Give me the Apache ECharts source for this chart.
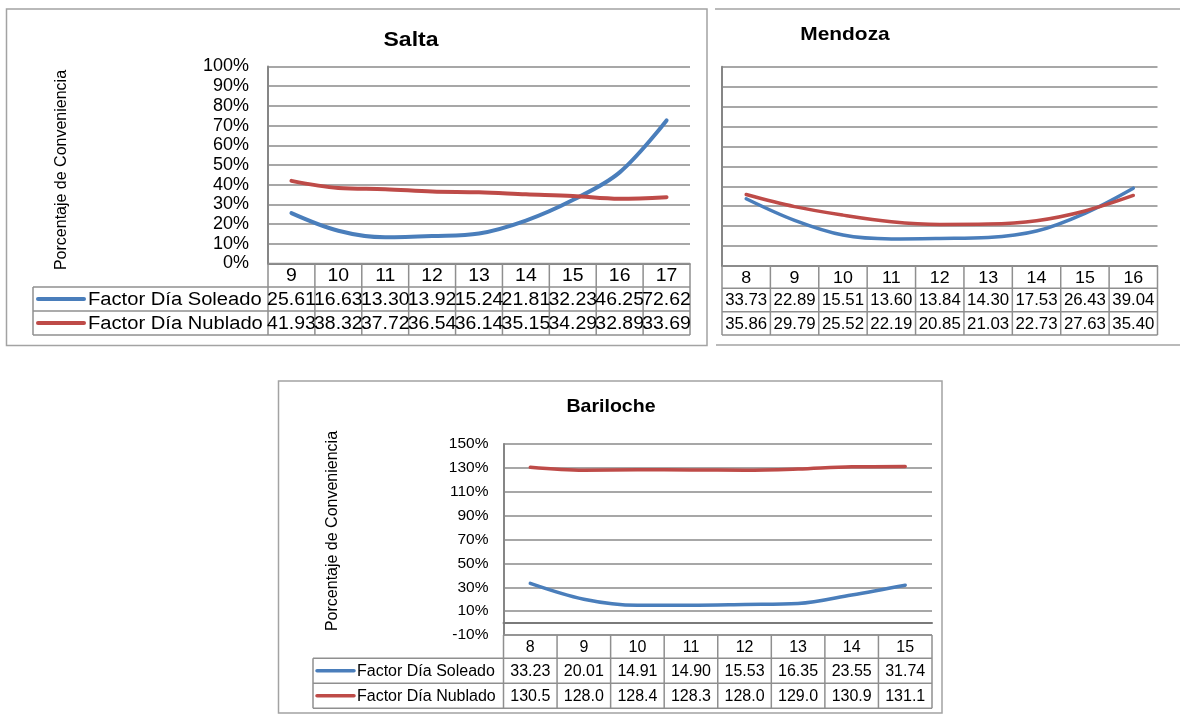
<!DOCTYPE html>
<html>
<head>
<meta charset="utf-8">
<title>Porcentaje de Conveniencia</title>
<script src="https://cdn.jsdelivr.net/npm/echarts@6/dist/echarts.min.js"></script>
<style>
  html, body { margin: 0; padding: 0; background: #ffffff; }
  #chart { width: 1180px; height: 715px; }
</style>
</head>
<body>
<div id="chart"></div>
<script>
// ---- data ----
const seriesNames = ['Factor Día Soleado', 'Factor Día Nublado'];

const saltaHours = ['9', '10', '11', '12', '13', '14', '15', '16', '17'];
const saltaSoleado = [25.61, 16.63, 13.30, 13.92, 15.24, 21.81, 32.23, 46.25, 72.62];
const saltaNublado = [41.93, 38.32, 37.72, 36.54, 36.14, 35.15, 34.29, 32.89, 33.69];
const saltaTicks = [0, 10, 20, 30, 40, 50, 60, 70, 80, 90, 100];

const mendozaHours = ['8', '9', '10', '11', '12', '13', '14', '15', '16'];
const mendozaSoleado = [33.73, 22.89, 15.51, 13.60, 13.84, 14.30, 17.53, 26.43, 39.04];
const mendozaNublado = [35.86, 29.79, 25.52, 22.19, 20.85, 21.03, 22.73, 27.63, 35.40];
const mendozaTicks = [0, 10, 20, 30, 40, 50, 60, 70, 80, 90, 100];

const barilocheHours = ['8', '9', '10', '11', '12', '13', '14', '15'];
const barilocheSoleado = [33.23, 20.01, 14.91, 14.90, 15.53, 16.35, 23.55, 31.74];
const barilocheNublado = [130.5, 128.0, 128.4, 128.3, 128.0, 129.0, 130.9, 131.1];
const barilocheTicks = [-10, 10, 30, 50, 70, 90, 110, 130, 150];

// ---- styling / layout ----
const FONT = "'Liberation Sans', Arial, sans-serif";
const COLORS = ['#4a7ebb', '#be4b48'];
const GRID_COLOR = '#8a8a8a';
const TABLE_COLOR = '#8f8f8f';
const FRAME_COLOR = '#a3a3a3';
const Y_NAME = 'Porcentaje de Conveniencia';

const panels = [
  {
    title: 'Salta', hours: saltaHours, values: [saltaSoleado, saltaNublado], ticks: saltaTicks,
    decimals: [2, 2],
    grid: { left: 268, top: 66.5, width: 422, height: 197 },
    rows: [263.5, 287, 311, 335],
    legendLeft: 33, keyX: [38, 84], legendTextX: 88,
    showLabels: true, labelSize: 18, labelMargin: 19,
    cellFont: 18, cellScale: 1.08, catFont: 18, legendFont: 18, legendScale: 1.12,
    titlePos: [411, 40], titleSize: 20, titleScale: 1.15,
    yNamePos: [62, 170],
    lineWidth: 4, zeroWidth: 1.5
  },
  {
    title: 'Mendoza', hours: mendozaHours, values: [mendozaSoleado, mendozaNublado], ticks: mendozaTicks,
    decimals: [2, 2],
    grid: { left: 722, top: 66.7, width: 435.5, height: 199.3 },
    rows: [266, 288.3, 311.7, 335],
    legendLeft: null,
    showLabels: false, labelSize: 16, labelMargin: 16,
    cellFont: 16, cellScale: 1.05, catFont: 17, legendFont: 16, legendScale: 1,
    titlePos: [845, 35], titleSize: 19, titleScale: 1.1,
    yNamePos: null,
    lineWidth: 3.5, zeroWidth: 1.5
  },
  {
    title: 'Bariloche', hours: barilocheHours, values: [barilocheSoleado, barilocheNublado], ticks: barilocheTicks,
    decimals: [2, 1],
    grid: { left: 503.5, top: 444, width: 428.5, height: 191 },
    rows: [635, 658.3, 683.3, 708.3],
    legendLeft: 313, keyX: [317, 354], legendTextX: 357,
    showLabels: true, labelSize: 15.5, labelMargin: 15,
    cellFont: 16, cellScale: 1.0, catFont: 16, legendFont: 16, legendScale: 1.0,
    titlePos: [611, 407], titleSize: 19, titleScale: 1.03,
    yNamePos: [333, 531],
    lineWidth: 3.5, zeroWidth: 2
  }
];

const chart = echarts.init(document.getElementById('chart'), null, { renderer: 'canvas' });

const option = {
  animation: false,
  backgroundColor: '#ffffff',
  grid: panels.map(p => ({
    left: p.grid.left, top: p.grid.top, width: p.grid.width, height: p.grid.height, containLabel: false
  })),
  xAxis: panels.map((p, i) => ({
    type: 'category', gridIndex: i, data: p.hours, boundaryGap: true,
    axisLabel: { show: false },
    axisTick: { show: false },
    axisLine: { show: true, onZero: true, lineStyle: { color: '#7a7a7a', width: p.zeroWidth } },
    splitLine: { show: false }
  })),
  yAxis: panels.map((p, i) => ({
    type: 'value', gridIndex: i,
    min: p.ticks[0], max: p.ticks[p.ticks.length - 1],
    axisLine: { show: true, lineStyle: { color: '#868686', width: 2 } },
    axisTick: { show: false, customValues: p.ticks },
    axisLabel: {
      show: p.showLabels, customValues: p.ticks,
      formatter: v => v + '%',
      fontSize: p.labelSize, fontFamily: FONT, color: '#000', margin: p.labelMargin
    },
    splitLine: { show: true, lineStyle: { color: GRID_COLOR, width: 1.5 } }
  })),
  series: panels.flatMap((p, i) => p.values.map((vals, k) => ({
    type: 'line', name: seriesNames[k] + ' ' + p.title,
    xAxisIndex: i, yAxisIndex: i,
    data: vals, smooth: 0.35,
    showSymbol: false, symbol: 'none',
    lineStyle: { color: COLORS[k], width: p.lineWidth, cap: 'round' },
    itemStyle: { color: COLORS[k] },
    z: 3
  })))
};

chart.setOption(option);

// ---- data tables, titles, frames ----
function seg(x1, y1, x2, y2, color, width) {
  return {
    type: 'line', silent: true, z: 5,
    shape: { x1, y1, x2, y2 },
    style: { stroke: color, lineWidth: width }
  };
}

function txt(x, y, s, size, opts) {
  opts = opts || {};
  return {
    type: 'text', silent: true, z: 6,
    x, y, scaleX: opts.scaleX || 1, rotation: opts.rotation || 0,
    style: {
      text: s, fontSize: size, fontFamily: FONT,
      fontWeight: opts.bold ? 'bold' : 'normal', fill: '#000',
      textAlign: opts.align || 'center', textVerticalAlign: 'middle'
    }
  };
}

const graphics = [];

// panel frames
graphics.push({
  type: 'rect', silent: true, z: 1,
  shape: { x: 6.5, y: 9, width: 700.5, height: 336.5 },
  style: { fill: 'none', stroke: FRAME_COLOR, lineWidth: 1.5 }
});
graphics.push(seg(715, 9, 1180, 9, FRAME_COLOR, 1.5));
graphics.push(seg(716, 345, 1180, 345, FRAME_COLOR, 1.5));
graphics.push({
  type: 'rect', silent: true, z: 1,
  shape: { x: 278.5, y: 381, width: 663.5, height: 332 },
  style: { fill: 'none', stroke: FRAME_COLOR, lineWidth: 1.5 }
});

panels.forEach((p, i) => {
  const n = p.hours.length;
  const xs = p.hours.map((h, j) => chart.convertToPixel({ xAxisIndex: i }, j));
  const half = (xs[1] - xs[0]) / 2;
  const left = xs[0] - half;
  const right = xs[n - 1] + half;
  const r = p.rows;
  const tableLeft = p.legendLeft != null ? p.legendLeft : left;

  // table grid
  graphics.push(seg(left, r[0], right, r[0], TABLE_COLOR, 1.5));
  for (let k = 1; k < r.length; k++) {
    graphics.push(seg(tableLeft, r[k], right, r[k], TABLE_COLOR, 1.5));
  }
  for (let j = 0; j <= n; j++) {
    const x = left + j * 2 * half;
    graphics.push(seg(x, r[0], x, r[3], TABLE_COLOR, 1.5));
  }
  if (p.legendLeft != null) {
    graphics.push(seg(tableLeft, r[1], tableLeft, r[3], TABLE_COLOR, 1.5));
  }

  // category row
  p.hours.forEach((h, j) => {
    graphics.push(txt(xs[j], (r[0] + r[1]) / 2 + 1, h, p.catFont, { scaleX: p.cellScale }));
  });

  // value rows
  p.values.forEach((vals, k) => {
    const yc = (r[k + 1] + r[k + 2]) / 2 + 1;
    vals.forEach((v, j) => {
      graphics.push(txt(xs[j], yc, v.toFixed(p.decimals[k]), p.cellFont, { scaleX: p.cellScale }));
    });
    if (p.legendLeft != null) {
      graphics.push({
        type: 'line', silent: true, z: 6,
        shape: { x1: p.keyX[0], y1: yc - 1, x2: p.keyX[1], y2: yc - 1 },
        style: { stroke: COLORS[k], lineWidth: p.lineWidth, lineCap: 'round' }
      });
      graphics.push(txt(p.legendTextX, yc, seriesNames[k], p.legendFont, { align: 'left', scaleX: p.legendScale }));
    }
  });

  // title
  graphics.push(txt(p.titlePos[0], p.titlePos[1], p.title, p.titleSize, { bold: true, scaleX: p.titleScale }));

  // vertical axis name
  if (p.yNamePos) {
    graphics.push(txt(p.yNamePos[0], p.yNamePos[1], Y_NAME, 16, { rotation: Math.PI / 2 }));
  }
});

chart.setOption({ graphic: { elements: graphics } });
</script>
</body>
</html>
